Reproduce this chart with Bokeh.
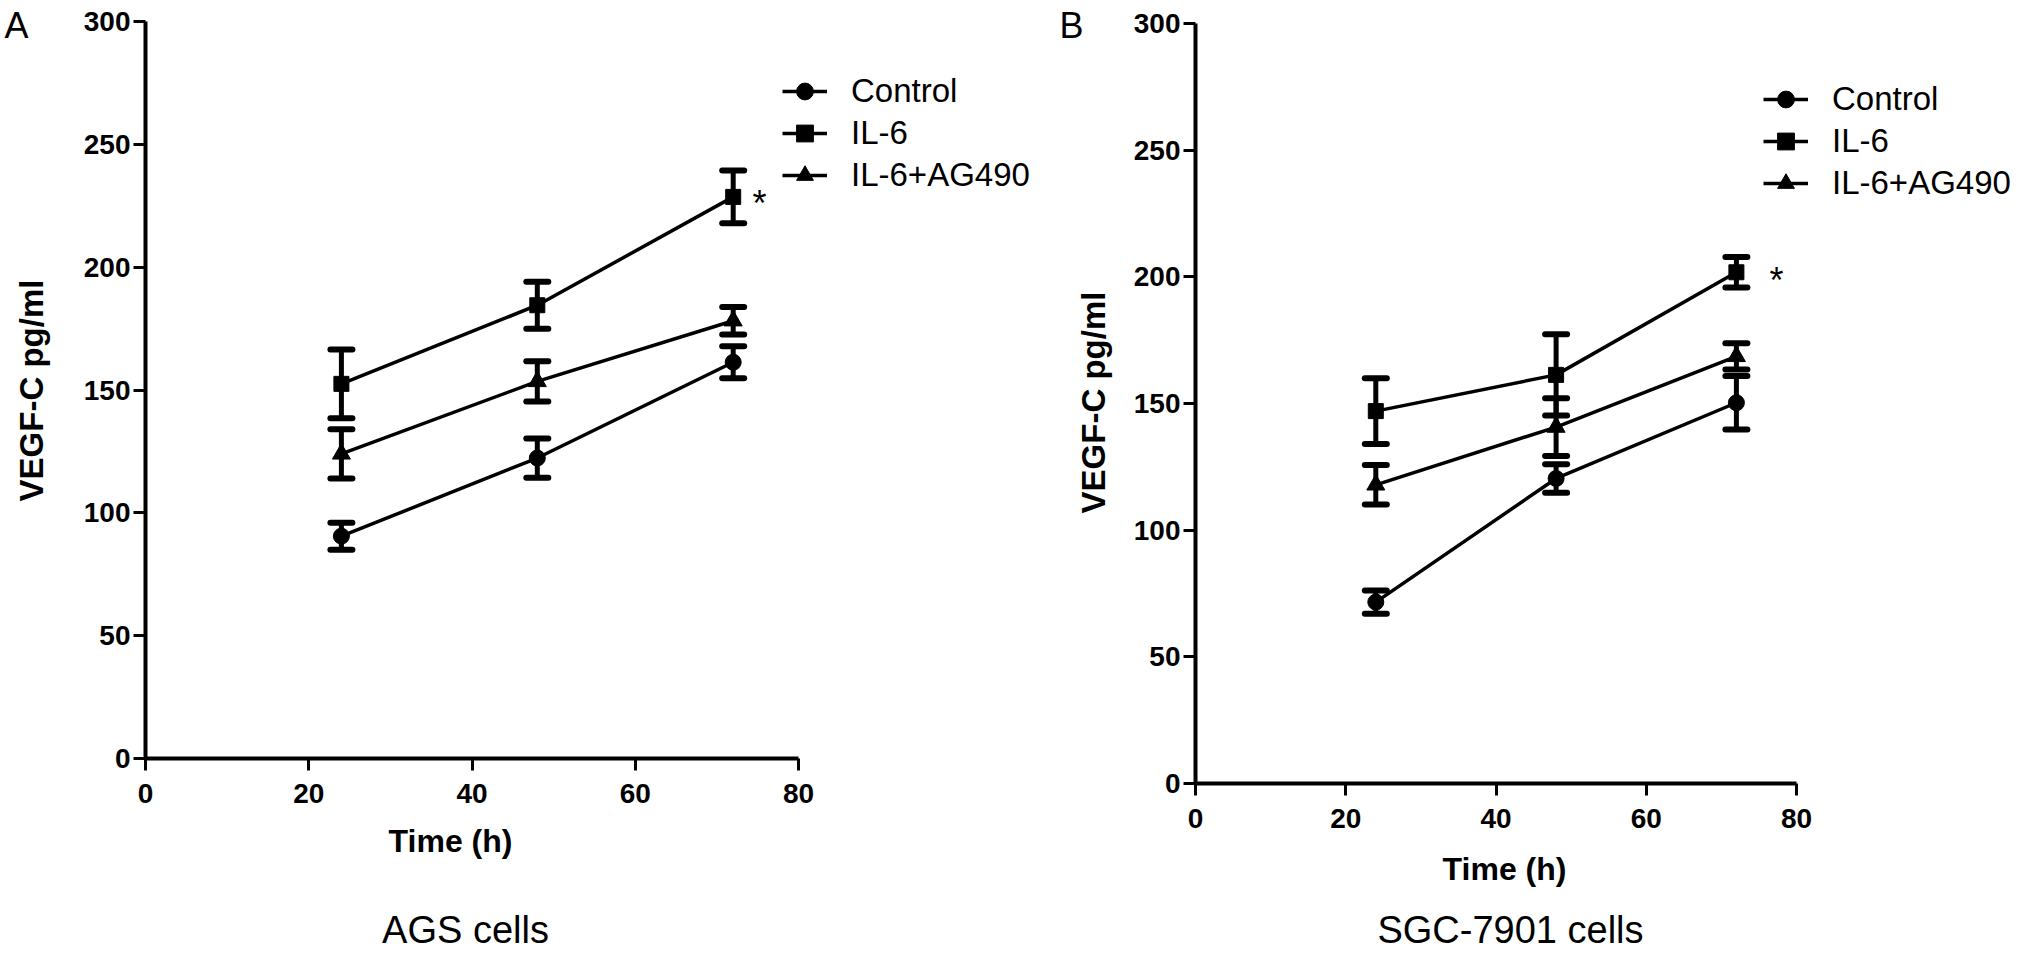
import math
from bokeh.plotting import figure
from bokeh.layouts import row
from bokeh.models import (ColumnDataSource, Whisker, TeeHead, Legend, LegendItem,
                          Range1d, FixedTicker, Label, LinearAxis)
from bokeh.embed import file_html
from bokeh.resources import INLINE

# shared x values and series
time_h = [24, 48, 72]
series_names = ["Control", "IL-6", "IL-6+AG490"]
markers = ["circle", "square", "triangle"]
marker_sizes = [16, 15, 18]
x_ticks = [0, 20, 40, 60, 80]
y_ticks = [0, 50, 100, 150, 200, 250, 300]

# panel A: AGS cells (mean, error)
ags_control = [90.5, 122.3, 161.3]
ags_control_err = [5.5, 8.0, 6.5]
ags_il6 = [152.5, 184.5, 228.6]
ags_il6_err = [14.0, 9.6, 10.7]
ags_ag490 = [124.0, 153.5, 178.2]
ags_ag490_err = [10.0, 8.2, 5.6]

# panel B: SGC-7901 cells
sgc_control = [71.6, 120.4, 150.3]
sgc_control_err = [4.6, 5.6, 10.6]
sgc_il6 = [147.0, 161.3, 201.8]
sgc_il6_err = [13.0, 16.0, 6.0]
sgc_ag490 = [117.9, 140.7, 168.6]
sgc_ag490_err = [7.8, 11.4, 5.2]

FONT = "Liberation Sans"
H = 955


def make_panel(means, errs, letter, caption, W, box, spots, legend_loc):
    # box: pixel position (inside this figure) of x=0, x=80, y=0, y=300
    x0, x80, y0, y300 = box
    xs = (x80 - x0) / 80.0
    ys = (y0 - y300) / 300.0

    def dx(px):
        return (px - x0) / xs

    def dy(py):
        return (y0 - py) / ys

    p = figure(width=W, height=H,
               x_range=Range1d(dx(0), dx(W)), y_range=Range1d(dy(H), dy(0)),
               output_backend="svg", toolbar_location=None,
               x_axis_location=None, y_axis_location=None, min_border=0)
    p.outline_line_color = None
    p.grid.visible = False

    xaxis = LinearAxis(fixed_location=0, bounds=(0, 80), ticker=FixedTicker(ticks=x_ticks))
    yaxis = LinearAxis(fixed_location=0, bounds=(0, 300), ticker=FixedTicker(ticks=y_ticks))
    for ax in (xaxis, yaxis):
        ax.axis_line_width = 4
        ax.axis_line_color = "black"
        ax.major_tick_line_width = 3
        ax.major_tick_line_color = "black"
        ax.major_tick_out = 12
        ax.major_tick_in = 0
        ax.minor_tick_line_color = None
        ax.major_label_text_font = FONT
        ax.major_label_text_font_size = "28px"
        ax.major_label_text_font_style = "bold"
        ax.major_label_text_color = "black"
    xaxis.major_label_standoff = 13
    yaxis.major_label_standoff = 3
    p.add_layout(xaxis, "below")
    p.add_layout(yaxis, "left")

    items = []
    for name, m, s, vals, es in zip(series_names, markers, marker_sizes, means, errs):
        src = ColumnDataSource(data=dict(
            x=time_h, y=vals,
            upper=[a + b for a, b in zip(vals, es)],
            lower=[a - b for a, b in zip(vals, es)]))
        p.add_layout(Whisker(base="x", upper="upper", lower="lower", source=src,
                             line_width=5, line_color="black",
                             upper_head=TeeHead(size=22, line_width=6, line_cap="round"),
                             lower_head=TeeHead(size=22, line_width=6, line_cap="round")))
        ln = p.line("x", "y", source=src, line_width=3.5, line_color="black")
        sc = p.scatter("x", "y", source=src, marker=m, size=s,
                       fill_color="black", line_color="black")
        items.append(LegendItem(label=name, renderers=[ln, sc]))

    legend = Legend(items=items, location=legend_loc, border_line_color=None,
                    background_fill_alpha=0, padding=0, margin=0, spacing=0,
                    glyph_width=45, glyph_height=42, label_height=42,
                    label_standoff=24, label_text_font=FONT,
                    label_text_font_size="33px", label_text_color="black")
    p.add_layout(legend)

    def text(px, py, t, size, style="normal", angle=0.0):
        p.add_layout(Label(x=dx(px), y=dy(py), text=t, text_font=FONT,
                           text_font_size=size, text_font_style=style,
                           text_color="black", angle=angle,
                           text_align="center", text_baseline="middle"))

    text(*spots["letter"], letter, "36px")
    text(*spots["star"], "*", "36px")
    text(*spots["ylabel"], "VEGF-C pg/ml", "33px", "bold", math.pi / 2)
    text(*spots["xlabel"], "Time (h)", "32px", "bold")
    text(*spots["caption"], caption, "38px")
    return p


# figure A sits at page x 8, figure B at page x 1043 (page y 8 for both)
pa = make_panel([ags_control, ags_il6, ags_ag490],
                [ags_control_err, ags_il6_err, ags_ag490_err],
                "A", "AGS cells", 1035, (145, 798, 758, 21),
                dict(letter=(16, 25), star=(759, 203), ylabel=(31, 390),
                     xlabel=(450, 840), caption=(465, 929)),
                (782, 759))
pb = make_panel([sgc_control, sgc_il6, sgc_ag490],
                [sgc_control_err, sgc_il6_err, sgc_ag490_err],
                "B", "SGC-7901 cells", 980, (160, 761, 783, 23),
                dict(letter=(36, 25), star=(741, 280), ylabel=(58, 402),
                     xlabel=(469, 868), caption=(475, 929)),
                (728, 751))

layout = row(pa, pb)
open("out.html", "w").write(file_html(layout, INLINE))
